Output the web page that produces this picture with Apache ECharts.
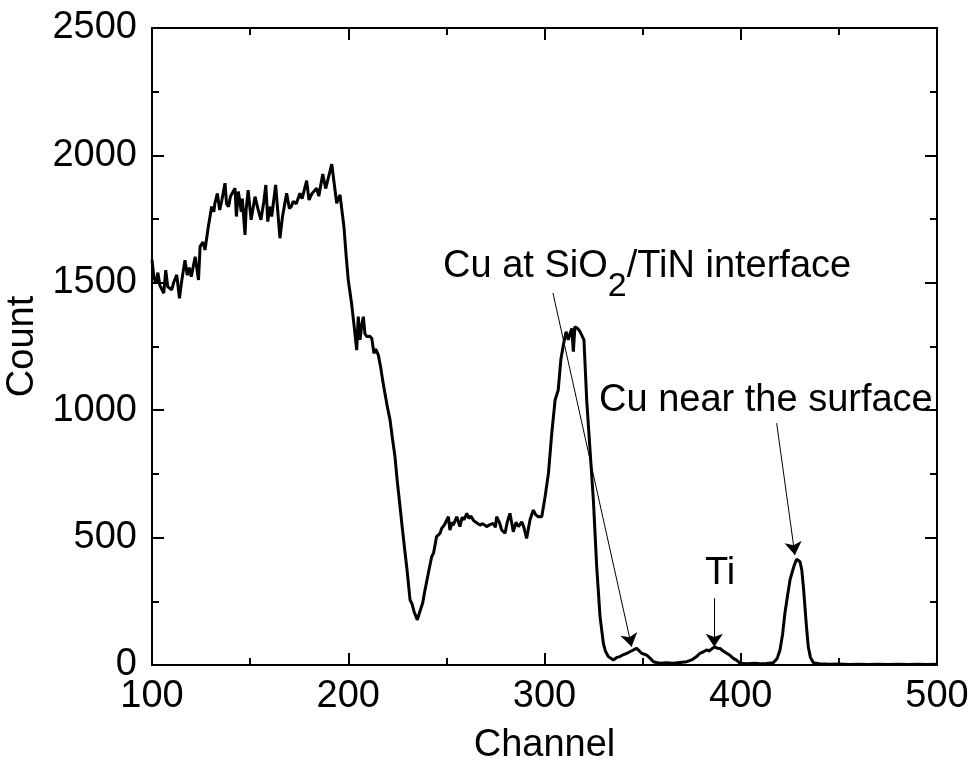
<!DOCTYPE html>
<html>
<head>
    <meta charset="UTF-8">
    <title>Channel vs Count</title>
    <script src="https://cdn.jsdelivr.net/npm/echarts@6/dist/echarts.min.js"></script>
    <style>
        body { margin: 0; padding: 0; background: #fff; }
        #main { width: 974px; height: 768px; }
    </style>
</head>
<body>
<div id="main"></div>
<script>
    // spectrum
    var channel = [100, 101, 102, 103, 104, 106, 107, 108, 110, 111, 112.6, 114, 115, 116.8, 118, 119, 120, 122, 123.7, 124.5,
        126, 127, 128.6, 130.4, 131.5, 132, 133.3, 134.5, 135.5, 137.2, 138, 139, 140, 142.3, 143, 144, 145.5, 146, 147.4, 148,
        149, 150.5, 152.5, 154, 155.5, 157, 158, 159, 160, 161, 163, 165.2, 166.5, 168.6, 170, 171, 172, 173.5, 175.4, 176.5,
        178.8, 180, 181.5, 183.9, 185, 187, 188.5, 189.5, 191.6, 193, 194.1, 195.8, 197.8, 199, 200, 201.7, 203, 204.3, 205.1, 206,
        207, 207.7, 208.5, 209.4, 211, 212, 213.1, 214, 215.3, 216.5, 217.5, 218.7, 220, 221.3, 222.5, 223.8, 225, 226.4, 227.5, 228.4,
        230, 231.5, 232.5, 233.5, 235.2, 236.5, 237.9, 239, 240.8, 242.5, 243.5, 245, 246.8, 247.6, 249, 250.2, 251, 251.8, 253, 253.5,
        255.3, 256.9, 258, 259, 260.4, 261.5, 262.5, 263.7, 265, 267.1, 268.5, 270.5, 272, 273.9, 275, 275.6, 277, 278.2, 279.9, 281,
        282.4, 283, 284.1, 285.5, 286.7, 288.4, 289.5, 290.9, 292.6, 294.3, 295.5, 296.8, 298.6, 300.3, 302, 303.7, 305.4, 307, 308.3, 309.6,
        311, 312.1, 313, 313.9, 314.7, 315.5, 317, 318.1, 320.1, 321.5, 323.2, 324.9, 326.6, 328.3, 330, 331, 332.5, 335.1, 337, 338.5,
        340, 341.9, 343.5, 345.3, 347, 348, 349.5, 350.5, 352.1, 354, 355.5, 357, 358.9, 362, 365.7, 369, 372.5, 375, 377.5, 379.2,
        381, 382.6, 384, 385.5, 386.9, 388, 389.4, 391, 392.8, 394.5, 396.2, 398, 399.6, 403, 407, 410, 413, 416.6, 418.5, 420,
        421.3, 422.5, 423.8, 425.1, 426.4, 427.6, 428.5, 429.3, 430.2, 431.1, 432, 432.7, 433.5, 434.4, 435.5, 437, 440, 445, 450, 455,
        460, 465, 470, 475, 480, 485, 490, 495, 500];
    var count = [1590, 1520, 1498, 1540, 1490, 1459, 1550, 1485, 1472, 1500, 1531, 1439, 1500, 1589, 1530, 1560, 1524, 1602, 1511, 1642,
        1660, 1629, 1715, 1799, 1779, 1810, 1851, 1786, 1820, 1891, 1810, 1799, 1840, 1871, 1760, 1858, 1779, 1830, 1688, 1790,
        1864, 1747, 1838, 1790, 1747, 1820, 1884, 1740, 1799, 1760, 1884, 1675, 1760, 1851, 1792, 1800, 1820, 1810, 1851, 1830,
        1901, 1825, 1850, 1871, 1840, 1927, 1870, 1877, 1966, 1880, 1812, 1845, 1720, 1600, 1511, 1419, 1330, 1236, 1367, 1276,
        1340, 1367, 1300, 1289, 1290, 1282, 1223, 1240, 1217, 1170, 1119, 1066, 1010, 962, 890, 818, 720, 621, 540, 478,
        370, 255, 240, 210, 177, 210, 242, 290, 360, 425, 440, 504, 517, 536, 550, 569, 582, 530, 560, 549,
        582, 543, 580, 570, 595, 575, 585, 569, 560, 549, 555, 543, 550, 556, 540, 582, 560, 530, 517, 560,
        595, 570, 523, 560, 543, 562, 540, 497, 569, 608, 590, 582, 582, 660, 752, 909, 1040, 1079, 1197, 1256,
        1308, 1276, 1300, 1321, 1230, 1328, 1320, 1308, 1276, 1040, 844, 648, 386, 190, 85, 55, 33, 20, 30, 33,
        40, 46, 52, 59, 65, 58, 46, 50, 39, 25, 13, 10, 7, 9, 7, 10, 13, 20, 33, 46,
        52, 59, 55, 65, 72, 66, 65, 55, 46, 38, 26, 18, 7, 5, 7, 5, 6, 9, 25, 59,
        120, 203, 270, 334, 370, 399, 415, 419, 405, 373, 300, 229, 150, 72, 30, 9, 5, 3, 4, 2,
        3, 2, 3, 2, 3, 2, 3, 2, 3];

    var xTicks = [100, 200, 300, 400, 500];
    var yTicks = [0, 500, 1000, 1500, 2000, 2500];

    // annotation arrows: [from channel, from count, to channel, to count]
    var arrowInterface = [304.3, 1460, 344.4, 72];
    var arrowTi = [386.5, 262, 386.5, 72];
    var arrowSurface = [418.3, 949, 427.6, 432];

    var FONT = "'Liberation Sans', Arial, sans-serif";
    var chart = echarts.init(document.getElementById('main'), null, {renderer: 'canvas'});

    var points = [];
    for (var i = 0; i < channel.length; i++) {
        points.push([channel[i], count[i]]);
    }

    function arrow(a) {
        return [{coord: [a[0], a[1]]}, {coord: [a[2], a[3]]}];
    }

    function plain(v) {
        return String(v);
    }

    var axisLineStyle = {color: '#000', width: 2};
    var tickCommon = {show: true, inside: true, length: 12, lineStyle: {color: '#000', width: 2}};
    var minorCommon = {show: true, splitNumber: 2, length: 7, lineStyle: {color: '#000', width: 2}};

    var option = {
        animation: false,
        backgroundColor: '#fff',
        grid: {left: 152, right: 37, top: 28, bottom: 103, containLabel: false, outerBoundsMode: 'none'},
        xAxis: [{
            type: 'value',
            position: 'bottom',
            min: xTicks[0],
            max: xTicks[xTicks.length - 1],
            interval: 100,
            name: 'Channel',
            nameLocation: 'middle',
            nameGap: 62,
            nameTextStyle: {fontFamily: FONT, fontSize: 38, color: '#000'},
            axisLine: {show: true, onZero: false, lineStyle: axisLineStyle},
            axisTick: tickCommon,
            minorTick: minorCommon,
            axisLabel: {fontFamily: FONT, fontSize: 38, color: '#000', margin: 13, formatter: plain},
            splitLine: {show: false}
        }, {
            type: 'value',
            position: 'top',
            min: xTicks[0],
            max: xTicks[xTicks.length - 1],
            interval: 100,
            axisLine: {show: true, onZero: false, lineStyle: axisLineStyle},
            axisTick: tickCommon,
            minorTick: minorCommon,
            axisLabel: {show: false},
            splitLine: {show: false}
        }],
        yAxis: [{
            type: 'value',
            position: 'left',
            min: yTicks[0],
            max: yTicks[yTicks.length - 1],
            interval: 500,
            name: 'Count',
            nameLocation: 'middle',
            nameGap: 106,
            nameTextStyle: {fontFamily: FONT, fontSize: 38, color: '#000'},
            axisLine: {show: true, onZero: false, lineStyle: axisLineStyle},
            axisTick: tickCommon,
            minorTick: minorCommon,
            axisLabel: {fontFamily: FONT, fontSize: 38, color: '#000', margin: 15, formatter: plain},
            splitLine: {show: false}
        }, {
            type: 'value',
            position: 'right',
            min: yTicks[0],
            max: yTicks[yTicks.length - 1],
            interval: 500,
            axisLine: {show: true, onZero: false, lineStyle: axisLineStyle},
            axisTick: tickCommon,
            minorTick: minorCommon,
            axisLabel: {show: false},
            splitLine: {show: false}
        }],
        series: [{
            type: 'line',
            data: points,
            showSymbol: false,
            symbol: 'none',
            lineStyle: {color: '#000', width: 3},
            z: 3,
            markLine: {
                silent: true,
                symbol: ['none', 'arrow'],
                symbolSize: 13,
                label: {show: false},
                lineStyle: {color: '#000', width: 1, type: 'solid'},
                data: [arrow(arrowInterface), arrow(arrowTi), arrow(arrowSurface)]
            }
        }],
        graphic: [{
            type: 'text',
            left: 443,
            top: 248,
            style: {
                text: '{a|Cu at SiO}{b|2}{a|/TiN interface}',
                rich: {
                    a: {fontFamily: FONT, fontSize: 38, lineHeight: 38, color: '#000', verticalAlign: 'top'},
                    b: {fontFamily: FONT, fontSize: 34, lineHeight: 34, color: '#000', verticalAlign: 'top', padding: [22, 0, 0, 0]}
                }
            }
        }, {
            type: 'text',
            left: 599,
            top: 382,
            style: {text: 'Cu near the surface', fontFamily: FONT, fontSize: 38, lineHeight: 38, fill: '#000'}
        }, {
            type: 'text',
            left: 705,
            top: 555,
            style: {text: 'Ti', fontFamily: FONT, fontSize: 38, lineHeight: 38, fill: '#000'}
        }]
    };
    chart.setOption(option);
</script>
</body>
</html>
